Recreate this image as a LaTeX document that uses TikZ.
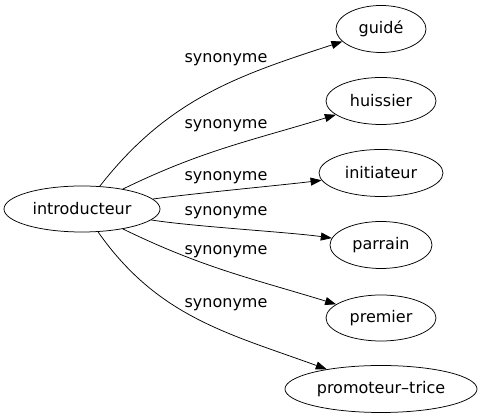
\documentclass[tikz,border=0pt]{standalone}
\usepackage{fontspec}
\setmainfont{DejaVu Sans}
\usetikzlibrary{shapes.geometric,arrows.meta}
\tikzset{
  term/.style={draw, line width=0.75pt, ellipse, inner sep=0pt, minimum height=47pt, font=\fontsize{16}{19}\selectfont},
  rel/.style={font=\fontsize{16}{19}\selectfont, inner sep=0pt},
  edge/.style={draw, line width=0.75pt, -{Triangle[length=11pt,width=8pt]}}
}
\begin{document}
\begin{tikzpicture}[x=1pt,y=1pt]
\useasboundingbox (0,0) rectangle (482,419);
\node[term, minimum width=156pt, minimum height=46pt] (intro) at (82,210) {introducteur};
\node[term, minimum width=90pt] (guide) at (381,390) {guidé};
\node[term, minimum width=110pt] (huissier) at (381,318) {huissier};
\node[term, minimum width=124pt] (initiateur) at (381,246) {initiateur};
\node[term, minimum width=102pt] (parrain) at (381,174) {parrain};
\node[term, minimum width=110pt, minimum height=46pt] (premier) at (381,101) {premier};
\node[term, minimum width=192pt] (promoteur) at (381,30) {promoteur–trice};

\node[rel] (l1) at (226,359) {synonyme};
\node[rel] (l2) at (226,293) {synonyme};
\node[rel] (l3) at (226,241) {synonyme};
\node[rel] (l4) at (226,206) {synonyme};
\node[rel] (l5) at (226,167) {synonyme};
\node[rel] (l6) at (226,114) {synonyme};

\draw[edge] (intro) to[out=52, in=198] (guide);
\draw[edge] (intro) to[out=26, in=197] (huissier);
\draw[edge] (intro) to[out=8, in=187, looseness=0.6] (initiateur);
\draw[edge] (intro) to[out=-9, in=172, looseness=0.6] (parrain);
\draw[edge] (intro) to[out=-26, in=163] (premier);
\draw[edge] (intro) to[out=-55, in=160] (promoteur);
\end{tikzpicture}
\end{document}
